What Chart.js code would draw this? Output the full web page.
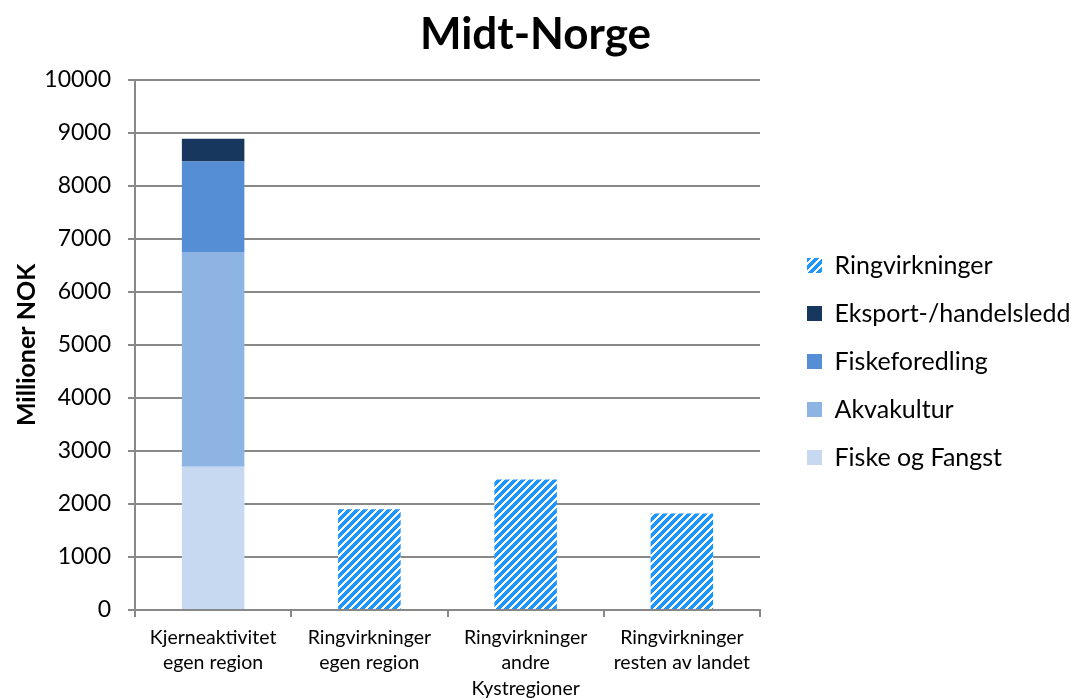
<!DOCTYPE html>
<html>
<head>
<meta charset="utf-8">
<script src="https://cdn.jsdelivr.net/npm/chart.js@4.4.0/dist/chart.umd.min.js"></script>
<style>
html, body { margin: 0; padding: 0; background: #fff; }
</style>
</head>
<body>
<canvas id="chart" width="1071" height="699"></canvas>
<script>
// data
const categories = [
    ['Kjerneaktivitet', 'egen region'],
    ['Ringvirkninger', 'egen region'],
    ['Ringvirkninger', 'andre', 'Kystregioner'],
    ['Ringvirkninger', 'resten av landet']
];
const fiskeFangst = [2700, null, null, null];
const akvakultur = [4050, null, null, null];
const fiskeforedling = [1710, null, null, null];
const eksport = [430, null, null, null];
const ringvirkninger = [null, 1900, 2460, 1820];
const yTicks = [0, 1000, 2000, 3000, 4000, 5000, 6000, 7000, 8000, 9000, 10000];

const FONT = 'Lato';
const gridColor = '#888888';
const LEGEND_WIDTH = 287;

function makeHatch(ctx) {
    const c = document.createElement('canvas');
    c.width = 8;
    c.height = 8;
    const g = c.getContext('2d');
    g.fillStyle = '#ffffff';
    g.fillRect(0, 0, 8, 8);
    g.fillStyle = '#1e96ff';
    for (let y = 0; y < 8; y++) {
        for (let x = 0; x < 8; x++) {
            if ((x + y) % 8 < 5) g.fillRect(x, y, 1, 1);
        }
    }
    return ctx.createPattern(c, 'repeat');
}

// the layout caps side boxes at a quarter of the width, let the legend be wider
const legendWidthFix = {
    id: 'legendWidthFix',
    beforeLayout(chart) {
        const legend = chart.legend;
        if (!legend || legend._patched) return;
        const origFit = legend.fit;
        legend.fit = function () {
            this.maxWidth = LEGEND_WIDTH;
            origFit.call(this);
            this.width = LEGEND_WIDTH;
        };
        legend._patched = true;
    }
};

const ctx = document.getElementById('chart').getContext('2d');
const hatch = makeHatch(ctx);

new Chart(ctx, {
    type: 'bar',
    data: {
        labels: categories,
        datasets: [
            { label: 'Fiske og Fangst', data: fiskeFangst, backgroundColor: '#c6d9f1' },
            { label: 'Akvakultur', data: akvakultur, backgroundColor: '#8eb4e3' },
            { label: 'Fiskeforedling', data: fiskeforedling, backgroundColor: '#558ed5' },
            { label: 'Eksport-/handelsledd', data: eksport, backgroundColor: '#17375e' },
            { label: 'Ringvirkninger', data: ringvirkninger, backgroundColor: hatch }
        ]
    },
    plugins: [legendWidthFix],
    options: {
        responsive: false,
        devicePixelRatio: 1,
        animation: false,
        datasets: {
            bar: { categoryPercentage: 1, barPercentage: 0.4 }
        },
        layout: { padding: 0 },
        scales: {
            x: {
                stacked: true,
                grid: {
                    display: true,
                    drawOnChartArea: false,
                    drawTicks: true,
                    tickLength: 7,
                    offset: true,
                    color: gridColor,
                    lineWidth: 2
                },
                border: { color: gridColor, width: 2 },
                ticks: {
                    color: '#000',
                    font: { family: FONT, size: 19.5, lineHeight: 1.3 },
                    padding: 8,
                    maxRotation: 0,
                    autoSkip: false
                },
                afterFit: s => { s.height = 89; }
            },
            y: {
                stacked: true,
                min: 0,
                max: 10000,
                afterBuildTicks: s => { s.ticks = yTicks.map(v => ({ value: v })); },
                grid: { color: gridColor, lineWidth: 2, tickLength: 7 },
                border: { color: gridColor, width: 2 },
                ticks: {
                    color: '#000',
                    font: { family: FONT, size: 23 },
                    padding: 17,
                    callback: v => String(v)
                },
                title: {
                    display: true,
                    text: 'Millioner NOK',
                    color: '#000',
                    font: { family: FONT, size: 25, weight: 'bold' },
                    padding: { top: 12, bottom: 0 }
                },
                afterFit: s => { s.width = 135; }
            },
            spacer: {
                type: 'linear',
                position: 'right',
                display: true,
                grid: { display: false },
                border: { display: false },
                ticks: { display: false },
                afterFit: s => { s.width = 1071 - 760 - LEGEND_WIDTH; }
            }
        },
        plugins: {
            title: {
                display: true,
                text: 'Midt-Norge',
                color: '#000',
                font: { family: FONT, size: 44, weight: 'bold' },
                padding: { top: 8, bottom: 19 }
            },
            legend: {
                position: 'right',
                reverse: true,
                title: {
                    display: true,
                    text: ' ',
                    font: { size: 10, lineHeight: 1.2 },
                    padding: 6
                },
                labels: {
                    boxWidth: 15,
                    boxHeight: 15,
                    padding: 23,
                    color: '#000',
                    font: { family: FONT, size: 25 }
                }
            },
            tooltip: { enabled: false }
        }
    }
});
</script>
</body>
</html>
